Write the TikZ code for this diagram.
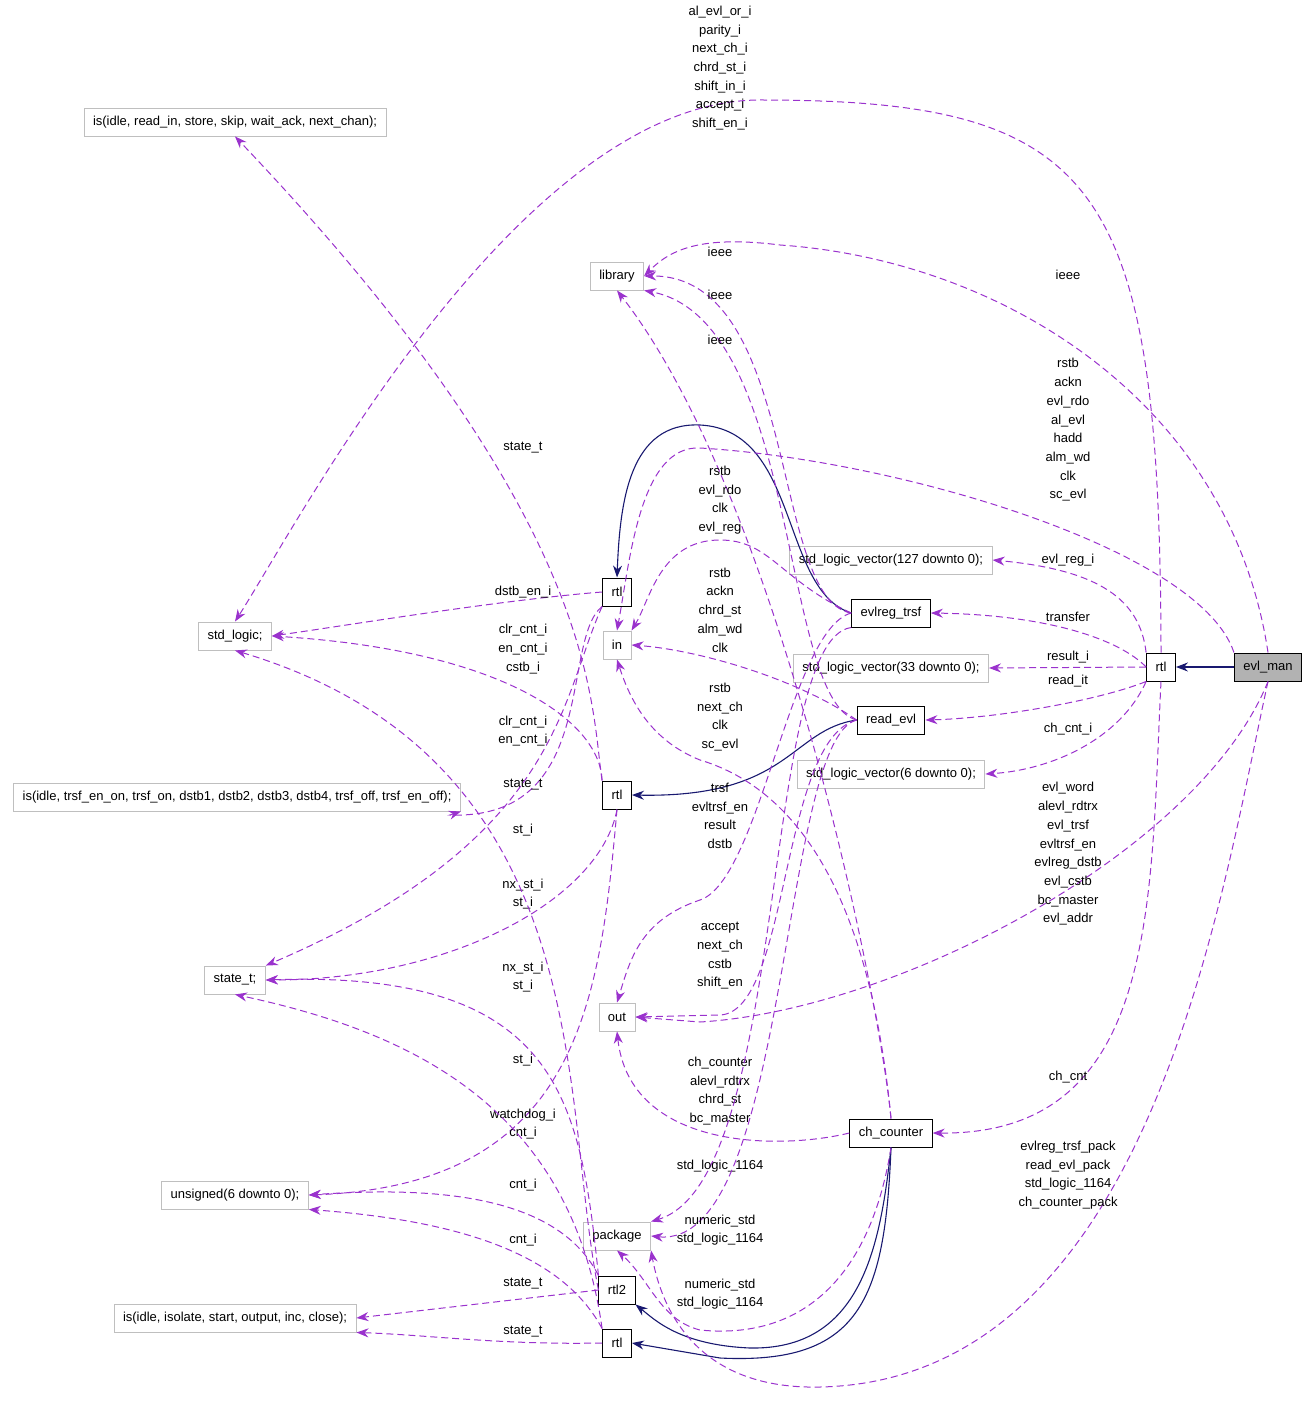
\documentclass[tikz,border=0pt]{standalone}
\usepackage{fontspec}
\setmainfont{Liberation Sans}
\usetikzlibrary{arrows.meta,positioning}
\definecolor{dep}{RGB}{154,50,205}
\definecolor{inhc}{RGB}{25,25,112}
\begin{document}
\begin{tikzpicture}[x=1pt,y=-1pt,>={Stealth[length=12pt,width=9pt]},font=\fontsize{13}{18.7}\selectfont]

    % Styles
    \tikzset{
        gbox/.style={draw=black!25, line width=0.9pt, inner xsep=9pt, inner ysep=5pt, minimum height=28pt},
        kbox/.style={draw=black, line width=1pt, inner xsep=9pt, inner ysep=5pt, minimum height=28pt},
        uses/.style={->, dash pattern=on 7pt off 4pt, dep, line width=1pt},
        inh/.style={->, inhc, line width=1.1pt},
        lbl/.style={align=center, inner sep=0pt}
    }
    \useasboundingbox (0,0) rectangle (1309,1420);

    % Classes
    \node[kbox, fill=black!30] (em) at (1268,667) {evl\_man};
    \node[kbox] (rtlm) at (1161,667) {rtl};
    \node[kbox] (evt) at (891,613) {evlreg\_trsf};
    \node[kbox] (rev) at (891,720) {read\_evl};
    \node[kbox] (chc) at (891,1133) {ch\_counter};
    \node[kbox] (rtlt) at (617,592) {rtl};
    \node[kbox] (rtlc) at (617,795) {rtl};
    \node[kbox] (rtl2) at (617,1290) {rtl2};
    \node[kbox] (rtlb) at (617,1343) {rtl};

    % Types
    \node[gbox] (isrd) at (235,122) {is(idle, read\_in, store, skip, wait\_ack, next\_chan);};
    \node[gbox] (lib) at (617,276) {library};
    \node[gbox] (sl) at (235,636) {std\_logic;};
    \node[gbox] (in) at (617,645) {in};
    \node[gbox] (sva) at (891,560) {std\_logic\_vector(127 downto 0);};
    \node[gbox] (svb) at (891,668) {std\_logic\_vector(33 downto 0);};
    \node[gbox] (svc) at (891,774) {std\_logic\_vector(6 downto 0);};
    \node[gbox] (istr) at (237,797) {is(idle, trsf\_en\_on, trsf\_on, dstb1, dstb2, dstb3, dstb4, trsf\_off, trsf\_en\_off);};
    \node[gbox] (st) at (235,980) {state\_t;};
    \node[gbox] (out) at (617,1017) {out};
    \node[gbox] (un) at (235,1195) {unsigned(6 downto 0);};
    \node[gbox] (pkg) at (617,1236) {package};
    \node[gbox] (isis) at (235,1318) {is(idle, isolate, start, output, inc, close);};

    % Inheritance
    \draw[inh] (em.west) -- (rtlm.east);
    \draw[inh] (evt.west) .. controls (780,590) and (800,430) .. (700,425) .. controls (630,422) and (620,500) .. (rtlt.north);
    \draw[inh] (rev.west) .. controls (790,730) and (790,798) .. (rtlc.east);
    \draw[inh] (chc.south) .. controls (880,1250) and (860,1350) .. (750,1348) .. controls (680,1345) and (655,1320) .. (rtl2.south east);
    \draw[inh] (chc.south) .. controls (885,1300) and (860,1365) .. (720,1358) -- (rtlb.east);

    % evl_man and its rtl
    \draw[uses] (rtlm.north) .. controls (1160,180) and (1100,100) .. (760,100) .. controls (520,100) and (300,520) .. (sl.north);
    \node[lbl] at (720,68) {al\_evl\_or\_i\\parity\_i\\next\_ch\_i\\chrd\_st\_i\\shift\_in\_i\\accept\_i\\shift\_en\_i};
    \draw[uses] (em.north) .. controls (1230,400) and (1000,260) .. (780,245) .. controls (700,235) and (670,250) .. (lib.east);
    \node[lbl] at (1068,275) {ieee};
    \draw[uses] (em.north west) .. controls (1200,550) and (900,460) .. (700,448) .. controls (640,445) and (630,560) .. (in.north);
    \node[lbl] at (1068,430) {rstb\\ackn\\evl\_rdo\\al\_evl\\hadd\\alm\_wd\\clk\\sc\_evl};
    \draw[uses] (em.south) .. controls (1200,850) and (900,1010) .. (700,1022) -- (out.east);
    \node[lbl] at (1068,854) {evl\_word\\alevl\_rdtrx\\evl\_trsf\\evltrsf\_en\\evlreg\_dstb\\evl\_cstb\\bc\_master\\evl\_addr};
    \draw[uses] (em.south) .. controls (1220,900) and (1150,1380) .. (820,1387) .. controls (690,1390) and (660,1300) .. (pkg.south east);
    \node[lbl] at (1068,1175) {evlreg\_trsf\_pack\\read\_evl\_pack\\std\_logic\_1164\\ch\_counter\_pack};
    \draw[uses] (rtlm.north west) .. controls (1140,600) and (1100,570) .. (sva.east);
    \node[lbl] at (1068,560) {evl\_reg\_i};
    \draw[uses] (rtlm.west) .. controls (1120,640) and (1050,615) .. (evt.east);
    \node[lbl] at (1068,617) {transfer};
    \draw[uses] (rtlm.west) -- (svb.east);
    \node[lbl] at (1068,657) {result\_i};
    \draw[uses] (rtlm.south west) .. controls (1100,700) and (1000,718) .. (rev.east);
    \node[lbl] at (1068,681) {read\_it};
    \draw[uses] (rtlm.south west) .. controls (1120,740) and (1050,770) .. (svc.east);
    \node[lbl] at (1068,729) {ch\_cnt\_i};
    \draw[uses] (rtlm.south) .. controls (1150,900) and (1160,1135) .. (chc.east);
    \node[lbl] at (1068,1077) {ch\_cnt};

    % evlreg_trsf, read_evl, ch_counter
    \draw[uses] (evt.west) .. controls (770,600) and (800,275) .. (lib.east);
    \node[lbl] at (720,252) {ieee};
    \draw[uses] (rev.west) .. controls (780,700) and (800,320) .. (lib.south east);
    \node[lbl] at (720,295) {ieee};
    \draw[uses] (chc.north) .. controls (880,1000) and (780,500) .. (lib.south);
    \node[lbl] at (720,340) {ieee};
    \draw[uses] (evt.west) .. controls (780,580) and (770,540) .. (720,540) .. controls (660,540) and (650,600) .. (in.north east);
    \node[lbl] at (720,500) {rstb\\evl\_rdo\\clk\\evl\_reg};
    \draw[uses] (rev.west) .. controls (800,680) and (700,650) .. (in.east);
    \node[lbl] at (720,610) {rstb\\ackn\\chrd\_st\\alm\_wd\\clk};
    \draw[uses] (chc.north) .. controls (870,900) and (800,790) .. (700,760) .. controls (650,740) and (630,700) .. (in.south);
    \node[lbl] at (720,717) {rstb\\next\_ch\\clk\\sc\_evl};
    \draw[uses] (evt.west) .. controls (790,630) and (760,880) .. (700,900) .. controls (640,920) and (630,960) .. (out.north);
    \node[lbl] at (720,816) {trsf\\evltrsf\_en\\result\\dstb};
    \draw[uses] (rev.west) .. controls (780,740) and (790,1012) .. (720,1015) -- (out.east);
    \node[lbl] at (720,956) {accept\\next\_ch\\cstb\\shift\_en};
    \draw[uses] (chc.west) .. controls (780,1150) and (630,1150) .. (out.south);
    \node[lbl] at (720,1091) {ch\_counter\\alevl\_rdtrx\\chrd\_st\\bc\_master};
    \draw[uses] (evt.south west) .. controls (760,640) and (790,1180) .. (pkg.north east);
    \node[lbl] at (720,1166) {std\_logic\_1164};
    \draw[uses] (rev.west) .. controls (780,740) and (790,1250) .. (pkg.east);
    \node[lbl] at (720,1230) {numeric\_std\\std\_logic\_1164};
    \draw[uses] (chc.south) .. controls (870,1280) and (800,1340) .. (700,1330) .. controls (660,1320) and (650,1280) .. (pkg.south);
    \node[lbl] at (720,1294) {numeric\_std\\std\_logic\_1164};

    % architectures
    \draw[uses] (rtlt.west) .. controls (500,600) and (350,625) .. (sl.east);
    \node[lbl] at (523,592) {dstb\_en\_i};
    \draw[uses] (rtlc.north west) .. controls (600,720) and (500,650) .. (sl.east);
    \node[lbl] at (523,649) {clr\_cnt\_i\\en\_cnt\_i\\cstb\_i};
    \draw[uses] (rtlt.south west) .. controls (560,640) and (600,820) .. (450,815) -- (istr.south east);
    \node[lbl] at (523,785) {state\_t};
    \draw[uses] (rtlt.south west) .. controls (560,700) and (560,840) .. (st.north east);
    \node[lbl] at (523,830) {st\_i};
    \draw[uses] (rtlc.north west) .. controls (590,700) and (600,520) .. (isrd.south);
    \node[lbl] at (523,448) {state\_t};
    \draw[uses] (rtlc.south) .. controls (600,900) and (450,980) .. (st.east);
    \node[lbl] at (523,894) {nx\_st\_i\\st\_i};
    \draw[uses] (rtlc.south) .. controls (600,1000) and (580,1185) .. (un.east);
    \node[lbl] at (523,1124) {watchdog\_i\\cnt\_i};
    \draw[uses] (rtl2.west) .. controls (560,1100) and (600,760) .. (sl.south);
    \node[lbl] at (523,731) {clr\_cnt\_i\\en\_cnt\_i};
    \draw[uses] (rtl2.north west) .. controls (580,1100) and (560,970) .. (st.east);
    \node[lbl] at (523,977) {nx\_st\_i\\st\_i};
    \draw[uses] (rtl2.north west) .. controls (560,1200) and (450,1185) .. (un.east);
    \node[lbl] at (523,1185) {cnt\_i};
    \draw[uses] (rtl2.west) -- (isis.east);
    \node[lbl] at (523,1284) {state\_t};
    \draw[uses] (rtlb.north west) .. controls (570,1100) and (400,1030) .. (st.south);
    \node[lbl] at (523,1060) {st\_i};
    \draw[uses] (rtlb.north west) .. controls (560,1250) and (450,1220) .. (un.south east);
    \node[lbl] at (523,1240) {cnt\_i};
    \draw[uses] (rtlb.west) .. controls (500,1345) and (430,1335) .. (isis.south east);
    \node[lbl] at (523,1332) {state\_t};

\end{tikzpicture}
\end{document}
